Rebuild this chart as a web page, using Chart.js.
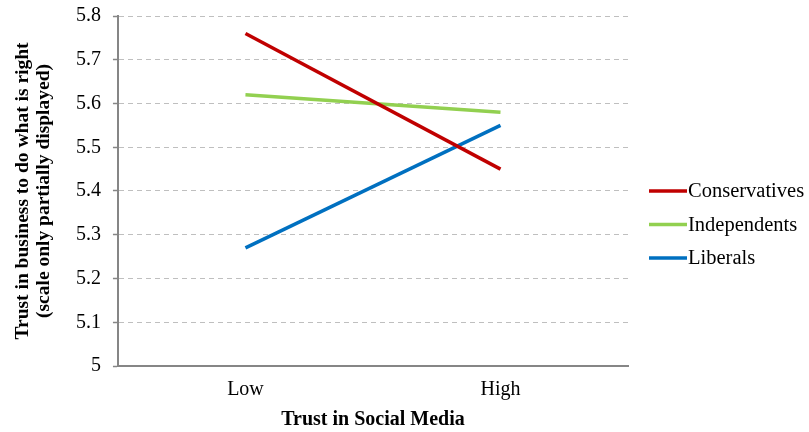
<!DOCTYPE html>
<html>
<head>
<meta charset="utf-8">
<script src="https://cdn.jsdelivr.net/npm/chart.js@4/dist/chart.umd.min.js"></script>
<style>
  html, body { margin: 0; padding: 0; background: #ffffff; }
  #wrap { width: 809px; height: 432px; position: relative; }
</style>
</head>
<body>
<div id="wrap"><canvas id="chart"></canvas></div>
<script>
// Trust in business by political group, split by trust in social media
const categories = ['Low', 'High'];
const conservatives = [5.76, 5.45];
const independents = [5.62, 5.58];
const liberals = [5.27, 5.55];
const seriesNames = ['Conservatives', 'Independents', 'Liberals'];
const yTitle = ['Trust in business to do what is right', '(scale only partially displayed)'];
const xTitle = 'Trust in Social Media';

const SERIF = '"Liberation Serif", "Times New Roman", serif';
const AXIS_GREY = '#868686';

// Legend drawn to the right of the plot: short line followed directly by the label
const sideLegend = {
  id: 'sideLegend',
  afterDraw(chart) {
    const ctx = chart.ctx;
    const area = chart.chartArea;
    const x0 = area.right + 21;
    const x1 = x0 + 38;
    let y = area.top + 175;
    ctx.save();
    ctx.font = '20.5px ' + SERIF;
    ctx.textBaseline = 'middle';
    ctx.textAlign = 'left';
    chart.data.datasets.forEach(ds => {
      ctx.strokeStyle = ds.borderColor;
      ctx.lineWidth = 3.5;
      ctx.beginPath();
      ctx.moveTo(x0, y);
      ctx.lineTo(x1, y);
      ctx.stroke();
      ctx.fillStyle = '#000000';
      ctx.fillText(ds.label, x1 + 1, y + 1);
      y += 33.5;
    });
    ctx.restore();
  }
};

new Chart(document.getElementById('chart'), {
  type: 'line',
  data: {
    labels: categories,
    datasets: [
      { label: seriesNames[0], data: conservatives, borderColor: '#C00000' },
      { label: seriesNames[1], data: independents, borderColor: '#92D050' },
      { label: seriesNames[2], data: liberals, borderColor: '#0070C0' }
    ].map(d => Object.assign(d, { borderWidth: 3.5, pointRadius: 0, tension: 0, fill: false }))
  },
  options: {
    responsive: true,
    maintainAspectRatio: false,
    animation: false,
    layout: { padding: { left: 13, right: 181, top: 16, bottom: 0 } },
    plugins: { legend: { display: false }, tooltip: { enabled: false } },
    scales: {
      x: {
        offset: true,
        grid: { display: false, drawTicks: false },
        border: { display: true, color: AXIS_GREY, width: 2 },
        ticks: { color: '#000000', font: { family: SERIF, size: 20 }, padding: 12 },
        title: {
          display: true, text: xTitle, color: '#000000',
          font: { family: SERIF, size: 20, weight: 'bold' }, padding: { top: -6, bottom: 0 }
        }
      },
      y: {
        min: 5, max: 5.8,
        // the plot top is set by layout padding alone
        afterFit(scale) { scale.paddingTop = 0; },
        ticks: {
          stepSize: 0.1, color: '#000000', padding: 12,
          font: { family: SERIF, size: 20, lineHeight: 1.0 },
          callback: v => (Math.round(v * 10) / 10).toString()
        },
        grid: {
          color: '#BFBFBF', lineWidth: 1,
          tickColor: AXIS_GREY, tickLength: 5, tickWidth: 1.5, tickBorderDash: []
        },
        border: { display: true, color: AXIS_GREY, width: 2, dash: [5, 4] },
        title: {
          display: true, text: yTitle, color: '#000000',
          font: { family: SERIF, size: 19.5, weight: 'bold', lineHeight: 1.05 }, padding: { top: 0, bottom: 10 }
        }
      }
    }
  },
  plugins: [sideLegend]
});
</script>
</body>
</html>
